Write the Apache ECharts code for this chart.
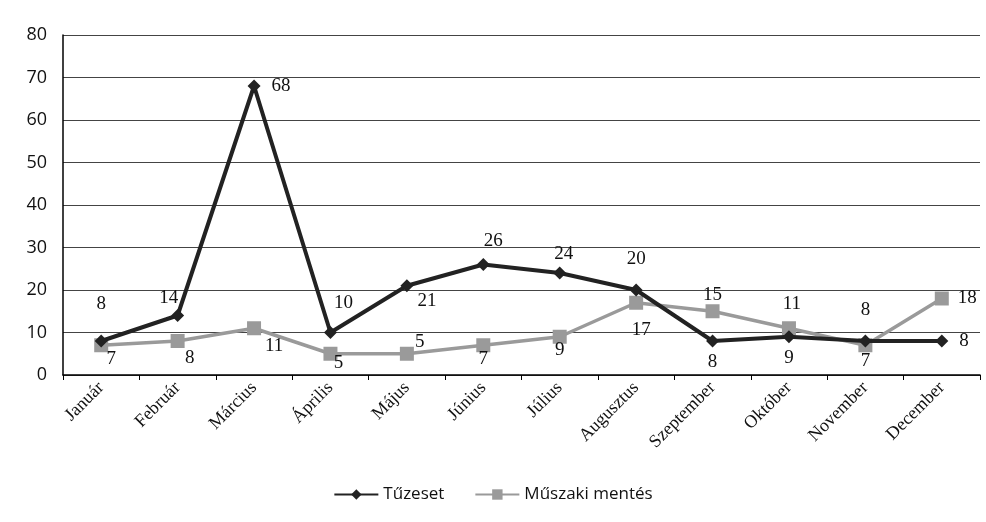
<!DOCTYPE html>
<html><head><meta charset="utf-8">
<script src="https://cdn.jsdelivr.net/npm/echarts@6/dist/echarts.min.js"></script>
<style>html,body{margin:0;padding:0;background:#fff}#c{width:986px;height:522px}</style>
</head><body><div id="c"></div>
<script>
const categories = ['Január','Február','Március','Április','Május','Június','Július','Augusztus','Szeptember','Október','November','December'];
const tuzeset = [8,14,68,10,21,26,24,20,8,9,8,8];
const muszaki = [7,8,11,5,5,7,9,17,15,11,7,18];
const yTicks = [0,10,20,30,40,50,60,70,80];
// label placements (position, offset) per point
const tuzLabel = [['top',[0,-16]],['top',[-9,4]],['right',[6,0]],['top',[13,-8]],['bottom',[20,-6]],['top',[10,-2]],['top',[4,2]],['top',[0,-10]],['bottom',[0,0]],['bottom',[0,0]],['top',[0,-10]],['right',[6,0]]];
const musLabel = [['bottom',[10,-8]],['bottom',[12,-4]],['bottom',[20,-4]],['bottom',[8,-12]],['right',[-4,-12]],['bottom',[0,-8]],['bottom',[0,-8]],['bottom',[5,6]],['top',[0,5]],['top',[3,-3]],['bottom',[0,-6]],['right',[4,0]]];

const labelFont = {fontFamily:'Liberation Serif', fontSize:19, color:'#111'};
function mk(vals, lab){
  return vals.map((v,i)=>({value:v, label:{show:true, position:lab[i][0], offset:lab[i][1], distance:5, ...labelFont}}));
}
const chart = echarts.init(document.getElementById('c'));
chart.setOption({
  backgroundColor:'#fff',
  animation:false,
  grid:{left:63, right:6, top:35, bottom:147},
  legend:{
    bottom:14, left:'center', itemGap:30, itemWidth:44, itemHeight:13,
    textStyle:{fontFamily:'Open Sans', fontSize:17, color:'#111'},
    data:['Tűzeset','Műszaki mentés']
  },
  xAxis:{
    type:'category', data:categories, boundaryGap:true,
    axisLine:{lineStyle:{color:'#000', width:1.5}},
    axisTick:{show:true, alignWithLabel:false, length:5, lineStyle:{color:'#000'}},
    axisLabel:{rotate:45, margin:10, fontFamily:'Liberation Serif', fontSize:18, color:'#111', interval:0}
  },
  yAxis:{
    type:'value', min:yTicks[0], max:yTicks[yTicks.length-1], interval:10,
    axisLine:{show:true, lineStyle:{color:'#000', width:1.5}},
    axisTick:{show:false},
    axisLabel:{margin:16, fontFamily:'Open Sans', fontSize:18, color:'#111'},
    splitLine:{lineStyle:{color:'#444', width:1.2}}
  },
  series:[
    {name:'Tűzeset', type:'line', data:mk(tuzeset, tuzLabel), symbol:'diamond', symbolSize:13,
     lineStyle:{color:'#222', width:4}, itemStyle:{color:'#222'}, z:3},
    {name:'Műszaki mentés', type:'line', data:mk(muszaki, musLabel), symbol:'rect', symbolSize:14,
     lineStyle:{color:'#9a9a9a', width:3.5}, itemStyle:{color:'#9a9a9a'}, z:2}
  ]
});
</script></body></html>
